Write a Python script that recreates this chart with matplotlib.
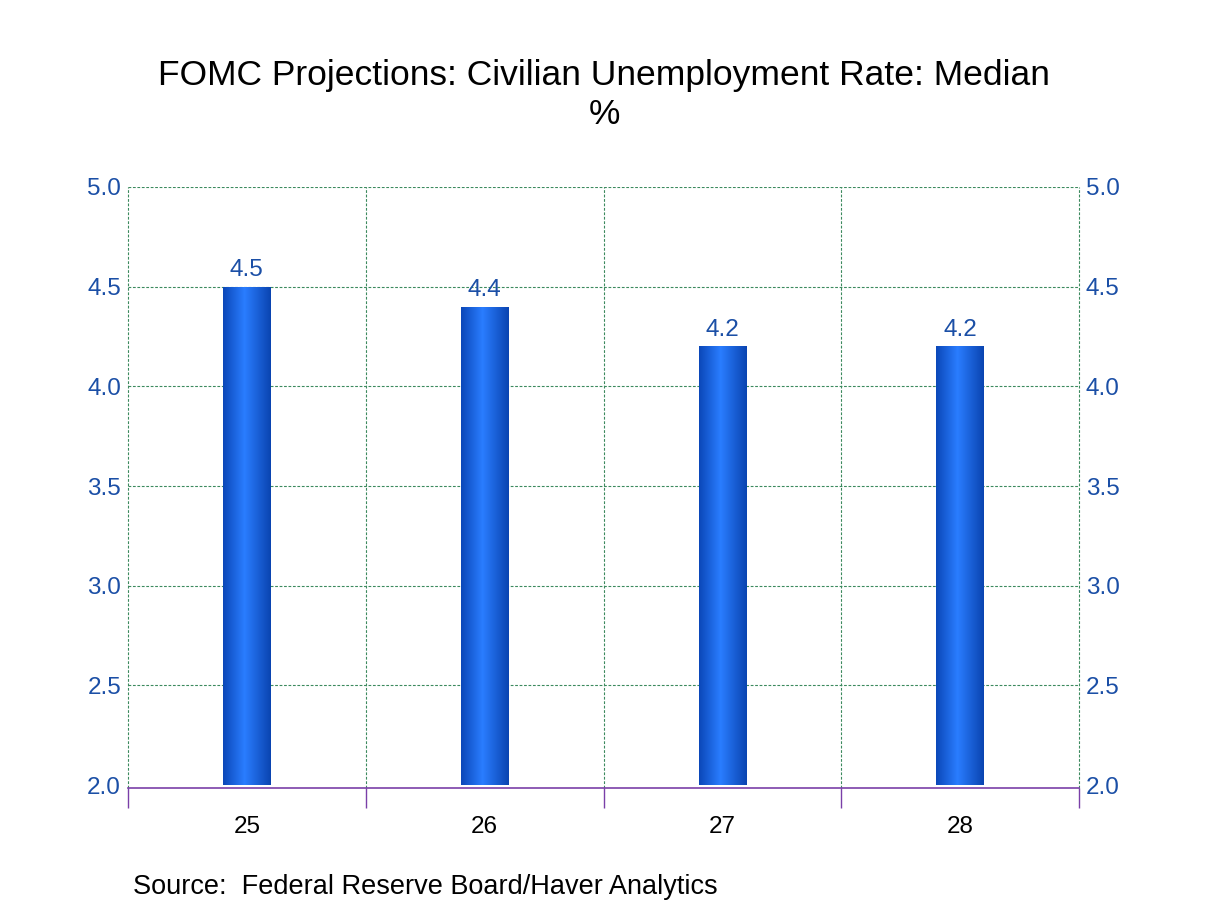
import matplotlib
matplotlib.use("Agg")
import matplotlib.pyplot as plt
import numpy as np
from matplotlib.colors import LinearSegmentedColormap

plt.rcParams['font.family'] = ['Liberation Sans', 'DejaVu Sans']

categories = ["25", "26", "27", "28"]
values = [4.5, 4.4, 4.2, 4.2]
yticks = [2.0, 2.5, 3.0, 3.5, 4.0, 4.5, 5.0]
base = 2.0

title = "FOMC Projections: Civilian Unemployment Rate: Median"
subtitle = "%"
source = "Source:  Federal Reserve Board/Haver Analytics"

label_blue = "#1b4fa6"
grid_green = "#3c8a5e"
axis_purple = "#7a3fa8"

fig = plt.figure(figsize=(12.08, 9.06), dpi=100)
ax = fig.add_axes([128/1208, 1-788/906, (1079-128)/1208, (788-187)/906])

x = np.arange(len(categories))
bars = ax.bar(x, [v - base for v in values], bottom=base, width=0.2,
              color="none", edgecolor="none", zorder=3)

cmap = LinearSegmentedColormap.from_list(
    "bar", [(0.0, "#0b47b8"), (0.45, "#2a7dff"), (1.0, "#0a44b0")])
grad = np.linspace(0, 1, 256).reshape(1, -1)
for rect in bars:
    x0 = rect.get_x()
    w = rect.get_width()
    y0 = rect.get_y()
    h = rect.get_height()
    im = ax.imshow(grad, cmap=cmap, aspect="auto",
                   extent=[x0, x0 + w, y0, y0 + h], zorder=3)
    im.set_clip_path(rect)

for xi, v in zip(x, values):
    ax.annotate(f"{v:.1f}", xy=(xi, v), xytext=(0, 4), textcoords="offset points",
                ha="center", va="bottom", color=label_blue, fontsize=17.5)

ax.set_xlim(-0.5, len(categories) - 0.5)
ax.set_ylim(1.985, 5.0)

ax.set_xticks(x)
ax.set_xticklabels(categories)
ax.set_xticks(np.arange(len(categories) + 1) - 0.5, minor=True)
ax.tick_params(axis="x", which="major", length=0, pad=20, labelsize=17.5, labelcolor="black")
ax.tick_params(axis="x", which="minor", length=14.5, width=1, color=axis_purple, direction="out")

ax.set_yticks(yticks)
ax.set_yticklabels([f"{t:.1f}" for t in yticks])
ax.tick_params(axis="y", length=0, pad=5, labelsize=17.5, labelcolor=label_blue,
               left=False, right=False, labelleft=True, labelright=True)

for t in yticks:
    if t > base:
        ax.axhline(t, color=grid_green, lw=0.8, ls=(0, (2.5, 1.5)), zorder=1)
for b in np.arange(len(categories) + 1) - 0.5:
    ax.axvline(b, color=grid_green, lw=0.8, ls=(0, (2.5, 1.5)), zorder=1, clip_on=False)

for s in ["left", "right", "top"]:
    ax.spines[s].set_visible(False)
ax.spines["bottom"].set_color(axis_purple)
ax.spines["bottom"].set_linewidth(1.2)

fig.text(0.5, 1 - 75/906, title, ha="center", va="center", fontsize=25.5, color="black")
fig.text(0.5, 1 - 115/906, subtitle, ha="center", va="center", fontsize=25.5, color="black")
fig.text(133/1208, 1 - 887/906, source, ha="left", va="center", fontsize=19.5, color="black")

fig.savefig("out.png", dpi=100)
